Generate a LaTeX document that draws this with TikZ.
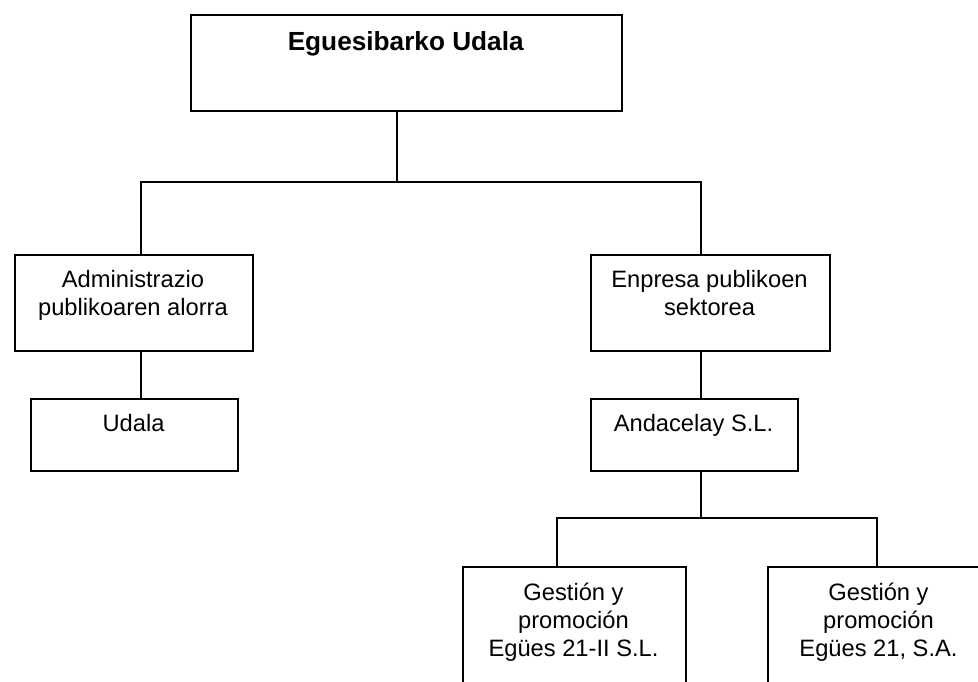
\documentclass[tikz,border=0pt]{standalone}
\usepackage{fontspec}
\setmainfont{Liberation Sans}
\begin{document}
\begin{tikzpicture}[x=1bp,y=-1bp,
  box/.style={draw=black,line width=1.8bp,anchor=north west,inner sep=0pt,fill=white},
  conn/.style={draw=black,line width=1.8bp},
  txt/.style={anchor=base,align=center,inner sep=0pt,font=\fontsize{23.7bp}{27.8bp}\selectfont},
  ttl/.style={anchor=base,align=center,inner sep=0pt,font=\fontsize{26.2bp}{30bp}\selectfont\bfseries}]
\useasboundingbox (0,0) rectangle (978,682);
\clip (0,0) rectangle (978,682);
\fill[white] (0,0) rectangle (978,682);
% boxes
\node[box,minimum width=431bp,minimum height=96bp] (top) at (190,14) {};
\node[box,minimum width=238bp,minimum height=96bp] (admin) at (14,254) {};
\node[box,minimum width=239bp,minimum height=96bp] (enp) at (590,254) {};
\node[box,minimum width=207bp,minimum height=72bp] (udala) at (30,398) {};
\node[box,minimum width=207bp,minimum height=72bp] (anda) at (590,398) {};
\node[box,minimum width=223bp,minimum height=140bp] (g1) at (462,566) {};
\node[box,minimum width=223bp,minimum height=140bp] (g2) at (767,566) {};
% texts (anchor=base is the last line's baseline)
\node[ttl] (ttop) at (405.7,50.7) {Eguesibarko Udala};
\node[txt] (tadmin) at (133,315) {Administrazio\\publikoaren alorra};
\node[txt] (tenp) at (709.5,315) {Enpresa publikoen\\sektorea};
\node[txt] (tudala) at (133.5,431.7) {Udala};
\node[txt] (tanda) at (693.5,431.7) {Andacelay S.L.};
\node[txt] (tg1) at (573.5,656.3) {Gestión y\\promoción\\Egües 21-II S.L.};
\node[txt] (tg2) at (878.5,656.3) {Gestión y\\promoción\\Egües 21, S.A.};
% junctions
\coordinate (jT) at (397,182);
\coordinate (jA) at (141,182);
\coordinate (jE) at (701,182);
\coordinate (jB) at (701,518);
\coordinate (jL) at (557,518);
\coordinate (jR) at (877,518);
% connectors
\draw[conn] (top.south -| jT) -- (jT);
\draw[conn,line cap=rect] (admin.north -| jA) -- (jA) -- (jE) -- (enp.north -| jE);
\draw[conn] (admin.south -| jA) -- (udala.north -| jA);
\draw[conn] (enp.south -| jE) -- (anda.north -| jE);
\draw[conn] (anda.south -| jB) -- (jB);
\draw[conn] (g1.north -| jL) -- (jL) -- (jR) -- (g2.north -| jR);
\end{tikzpicture}
\end{document}
